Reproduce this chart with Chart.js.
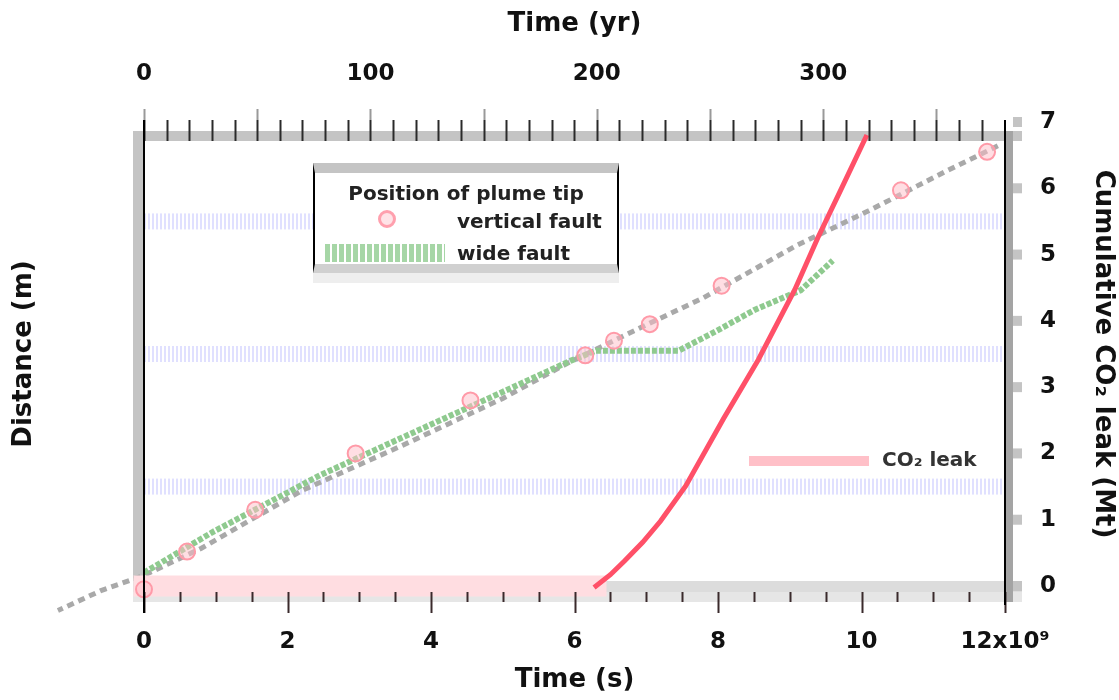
<!DOCTYPE html>
<html>
<head>
<meta charset="utf-8">
<title>Position of plume tip</title>
<script src="https://cdn.jsdelivr.net/npm/chart.js@4.4.1/dist/chart.umd.min.js"></script>
<style>
  html, body { margin: 0; padding: 0; background: #fff; }
  #wrap { position: relative; width: 1119px; height: 700px; font-family: "DejaVu Sans", sans-serif; color: #222; }
  #chart { position: absolute; left: 0; top: 0; }
  .legend { position: absolute; left: 313px; top: 163px; width: 302px; height: 91px; background: #fff;
            border-left: 2px solid #000; border-right: 2px solid #000;
            border-top: 10px solid #c4c4c4; border-bottom: 9px solid #d0d0d0; box-shadow: 0 10px 0 #eeeeee; }
  .legend span, .leak span { position: absolute; font-size: 20px; font-weight: bold; line-height: 24px; white-space: nowrap; }
  .lg-title { left: 0; width: 100%; top: 8px; text-align: center; }
  .lg-mark { left: 63px; top: 37px; width: 12px; height: 12px; border: 3px solid #ffa0ae; border-radius: 50%; background: rgba(255,200,208,0.5); }
  .lg-wide { left: 10px; top: 71px; width: 120px; height: 18px;
             background: repeating-linear-gradient(90deg, #a6d6a6 0 5px, transparent 5px 7px); }
  .leak .bar { left: 749px; top: 456px; width: 120px; height: 10px; background: #ffc0c8; }
</style>
</head>
<body>
<div id="wrap">
  <canvas id="chart" width="1119" height="700"></canvas>
  <div class="legend">
    <span class="lg-title">Position of plume tip</span>
    <span class="lg-mark"></span>
    <span style="left:142px; top:36px;">vertical fault</span>
    <span class="lg-wide"></span>
    <span style="left:142px; top:68px;">wide fault</span>
  </div>
  <div class="leak">
    <span class="bar"></span>
    <span style="left:882px; top:447px; color:#333;">CO₂ leak</span>
  </div>
</div>
<script>
// time axis in units of 1e9 s, depths in m, leak on right axis
const secondsPerYear = 3.15576e7;
const bottomLabels = [0, 2, 4, 6, 8, 10, 12];
const topLabels = [0, 100, 200, 300];
const leftLabels = [20, 30, 40, 50, 60, 70, 80];
const layerDepths = [30, 50, 70];

// vertical fault: grey dashed track (starts before t = 0, drawn unclipped)
const vertTime = [-1.2, -0.6, 0, 0.8, 2.2, 3.6, 5.0, 5.9, 6.6, 7.1, 7.8, 9.1, 10.1, 11.2, 11.9];
const vertTip  = [11.3, 14.3, 16.6, 20.7, 29.4, 36.2, 43.3, 48.6, 52.3, 54.9, 58.5, 66.4, 71.6, 77.7, 81.4];

// vertical fault: sampled markers
const markTime = [0, 0.6, 1.55, 2.95, 4.55, 6.15, 6.55, 7.05, 8.05, 10.55, 11.75];
const markTip  = [14.5, 20.2, 26.5, 35.0, 43.0, 49.8, 52.0, 54.5, 60.3, 74.7, 80.5];

// wide fault
const wideTime = [0, 0.95, 2.0, 2.45, 3.6, 4.8, 5.95, 6.3, 7.45, 8.0, 8.5, 9.15, 9.6];
const wideTip  = [17.0, 23.1, 29.1, 31.7, 37.4, 43.3, 49.0, 50.5, 50.5, 53.6, 56.6, 59.6, 64.1];

// CO2 leak (right axis)
const leakTime   = [0, 6.3, 6.5, 6.7, 6.95, 7.2, 7.55, 8.08, 8.56, 9.07, 9.39, 9.7, 10.06];
const leakAmount = [0, 0, 0.17, 0.38, 0.66, 0.98, 1.51, 2.53, 3.41, 4.47, 5.25, 5.95, 6.77];

const pts = (xs, ys) => xs.map((x, i) => ({ x, y: ys[i] }));

Chart.defaults.font.family = '"DejaVu Sans", sans-serif';
Chart.defaults.color = '#111';

const tickFont = { size: 23, weight: 'bold' };
const titleFont = { size: 26, weight: 'bold' };

const framePlugin = {
  id: 'frame',
  beforeDatasetsDraw(chart) {
    const { ctx, chartArea: a, scales } = chart;
    ctx.save();
    ctx.fillStyle = '#c4c4c4';
    ctx.fillRect(a.left - 11, a.top + 9, a.right - a.left + 28, 10);
    ctx.fillRect(a.left - 11, a.top + 9, 11, a.bottom - a.top - 14);
    ctx.fillStyle = '#dcdcdc';
    ctx.fillRect(a.left - 11, a.bottom - 5, a.right - a.left + 28, 11);
    ctx.fillStyle = '#e6e6e6';
    ctx.fillRect(a.left - 11, a.bottom + 6, a.right - a.left + 28, 10);
    ctx.fillStyle = '#a4a4a4';
    ctx.fillRect(a.right, a.top + 9, 8, a.bottom - a.top + 7);
    // stubs on the side axes
    ctx.fillStyle = '#c4c4c4';
    scales.y.ticks.forEach(t => {
      if (!leftLabels.includes(t.value)) return;
      const y = scales.y.getPixelForValue(t.value);
      ctx.fillRect(a.left - 17, y - 5, 7, 10);
    });
    scales.y2.ticks.forEach(t => {
      const y = scales.y2.getPixelForValue(t.value);
      ctx.fillRect(a.right + 8, y - 5, 9, 10);
    });
    ctx.restore();
  },
  afterDatasetsDraw(chart) {
    const { ctx, chartArea: a, scales } = chart;
    ctx.save();
    ctx.lineWidth = 2;
    // top ticks (years)
    scales.x2.ticks.forEach(t => {
      if (Math.abs(t.value / 10 - Math.round(t.value / 10)) > 1e-6) return;
      const x = Math.round(scales.x2.getPixelForValue(t.value)) + 0.5;
      if (t.value % 50 === 0) {
        ctx.strokeStyle = '#999';
        ctx.beginPath(); ctx.moveTo(x, a.top - 13); ctx.lineTo(x, a.top - 2); ctx.stroke();
      }
      ctx.strokeStyle = '#2a2a2a';
      ctx.beginPath(); ctx.moveTo(x, a.top - 2); ctx.lineTo(x, a.top + 19); ctx.stroke();
    });
    // bottom ticks (seconds)
    scales.x.ticks.forEach(t => {
      const x = Math.round(scales.x.getPixelForValue(t.value)) + 0.5;
      const major = bottomLabels.includes(t.value);
      ctx.strokeStyle = '#3a2a2c';
      ctx.beginPath(); ctx.moveTo(x, a.bottom + 6); ctx.lineTo(x, a.bottom + (major ? 27 : 16)); ctx.stroke();
    });
    // axis lines
    ctx.strokeStyle = '#000';
    ctx.beginPath();
    ctx.moveTo(a.left, a.top - 2); ctx.lineTo(a.left, a.bottom + 27);
    ctx.moveTo(a.right, a.top - 2); ctx.lineTo(a.right, a.bottom + 19);
    ctx.stroke();
    ctx.restore();
  }
};

const layerSets = layerDepths.map(d => ({
  label: 'layer ' + d,
  data: [{ x: 0, y: d }, { x: 12, y: d }],
  yAxisID: 'y',
  borderColor: '#e0e0ff',
  borderWidth: 16,
  borderDash: [2, 2],
  pointRadius: 0,
  order: 5
}));

new Chart(document.getElementById('chart'), {
  type: 'line',
  data: {
    datasets: [
      {
        label: 'vertical fault',
        data: pts(markTime, markTip),
        yAxisID: 'y',
        showLine: false,
        pointStyle: 'circle',
        pointRadius: 8,
        pointBackgroundColor: 'rgba(255,190,200,0.5)',
        pointBorderColor: '#ff9aa8',
        pointBorderWidth: 2,
        clip: false,
        order: 1
      },
      {
        label: 'CO2 leak',
        data: pts(leakTime, leakAmount),
        yAxisID: 'y2',
        borderColor: '#ff5c72',
        borderWidth: 5,
        borderCapStyle: 'square',
        pointRadius: 0,
        clip: false,
        segment: {
          borderColor: c => (c.p0.parsed.y === 0 && c.p1.parsed.y === 0) ? '#ffdde1' : '#ff5068',
          borderWidth: c => (c.p0.parsed.y === 0 && c.p1.parsed.y === 0) ? 21 : 5
        },
        order: 2
      },
      {
        label: 'wide fault',
        data: pts(wideTime, wideTip),
        yAxisID: 'y',
        borderColor: '#8fca8f',
        borderWidth: 6,
        borderDash: [5, 2],
        pointRadius: 0,
        order: 3
      },
      {
        label: 'vertical fault track',
        // reversed so Chart.js keeps the points left of x = 0 as well
        data: pts(vertTime, vertTip).reverse(),
        yAxisID: 'y',
        borderColor: '#a9a9a9',
        borderWidth: 5,
        borderDash: [7, 5],
        pointRadius: 0,
        clip: false,
        order: 4
      },
      ...layerSets
    ]
  },
  options: {
    responsive: false,
    animation: false,
    layout: { padding: 0 },
    plugins: { legend: { display: false }, tooltip: { enabled: false } },
    scales: {
      x: {
        type: 'linear', position: 'bottom', min: 0, max: 12,
        grid: { display: false }, border: { display: false },
        ticks: {
          stepSize: 0.5, autoSkip: false, maxRotation: 0, padding: 34, font: tickFont,
          callback: v => bottomLabels.includes(v) ? (v === 12 ? '12x10⁹' : String(v)) : ''
        },
        title: { display: true, text: 'Time (s)', font: titleFont, padding: { top: 0, bottom: 4 } },
        afterFit: s => { s.height = 114; }
      },
      x2: {
        type: 'linear', position: 'top', min: 0, max: 12e9 / secondsPerYear,
        grid: { display: false }, border: { display: false },
        ticks: {
          stepSize: 10, autoSkip: false, maxRotation: 0, padding: 26, font: tickFont,
          callback: v => topLabels.includes(v) ? String(v) : ''
        },
        title: { display: true, text: 'Time (yr)', font: titleFont, padding: { top: 9, bottom: 0 } },
        afterFit: s => { s.height = 122; }
      },
      y: {
        type: 'linear', position: 'left', min: 15, max: 85,
        grid: { display: false }, border: { display: false },
        ticks: {
          stepSize: 10, autoSkip: false, padding: 28, font: tickFont,
          callback: v => leftLabels.includes(v) ? String(v) : ''
        },
        title: { display: true, text: 'Distance (m)', font: titleFont, padding: { top: 9, bottom: 0 } },
        afterFit: s => { s.width = 144; }
      },
      y2: {
        type: 'linear', position: 'right', min: 0, max: 7,
        grid: { display: false }, border: { display: false },
        ticks: { stepSize: 1, autoSkip: false, padding: 27, font: tickFont },
        title: { display: true, text: 'Cumulative CO₂ leak (Mt)', font: titleFont, padding: { top: 1, bottom: 0 } },
        afterFit: s => { s.width = 114; }
      }
    }
  },
  plugins: [framePlugin]
});
</script>
</body>
</html>
